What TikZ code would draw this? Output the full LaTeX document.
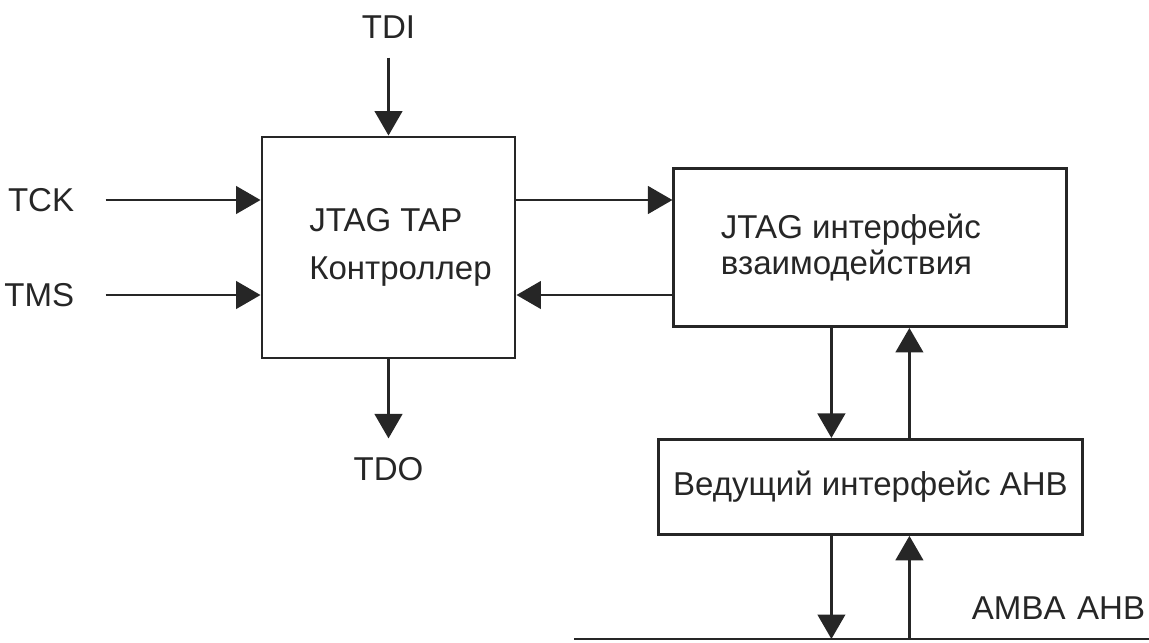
\documentclass[tikz,border=0pt]{standalone}
\usepackage{fontspec}
\setmainfont{Liberation Sans}
\usetikzlibrary{positioning,arrows.meta}
\definecolor{ink}{HTML}{262626}

\begin{document}
\begin{tikzpicture}[->,>={Triangle[width=0.55cm,length=0.49cm]},
  line width=1.65pt,color=ink,
  every node/.style={font=\fontsize{18.8}{21}\selectfont},
  block/.style={draw,inner sep=0pt},
  lbl/.style={inner sep=0.35cm}]

  \useasboundingbox (0,0) rectangle (22.98,-12.84);

  \node[block,minimum width=5.06cm,minimum height=4.42cm] (tap) at (7.77,-4.95) {};
  \node[block,minimum width=7.86cm,minimum height=3.16cm] (jtag) [right=3.12cm of tap] {};
  \node[block,minimum width=8.48cm,minimum height=1.9cm] (ahb) [below=2.2cm of jtag] {Ведущий интерфейс AHB};

  \node[align=left,inner sep=0pt,font=\fontsize{18.8}{27}\selectfont,xshift=0.24cm] (taptxt) at (tap) {JTAG TAP\\Контроллер};
  \node[align=left,inner sep=0pt,xshift=-0.39cm] (jtagtxt) at (jtag) {JTAG интерфейс\\взаимодействия};

  \node[lbl] (tdi) [above=1.56cm of tap] {TDI};
  \node[lbl] (tdo) [below=1.58cm of tap] {TDO};
  \node[lbl,inner xsep=0.6cm] (tck) [left=3.1cm of tap,yshift=0.95cm] {TCK};
  \node[lbl,inner xsep=0.6cm] (tms) [left=3.1cm of tap,yshift=-0.95cm] {TMS};

  % AMBA AHB bus
  \coordinate (busL) at (11.48,-12.78);
  \coordinate (busR) at (22.98,-12.78);
  \draw[-] (busL) -- (busR);
  \node (amba) at (21.17,-12.17) {AMBA\hspace{0.35em}AHB};

  \path (tdi) edge (tap)
        (tap) edge (tdo)
        (tck) edge (tck -| tap.west)
        (tms) edge (tms -| tap.west);

  \path ([yshift=0.95cm]tap.east) edge ([yshift=0.95cm]tap.east -| jtag.west)
        ([yshift=-0.95cm]jtag.west) edge ([yshift=-0.95cm]jtag.west -| tap.east);

  \path ([xshift=-0.78cm]jtag.south) edge ([xshift=-0.78cm]jtag.south |- ahb.north)
        ([xshift=0.78cm]ahb.north) edge ([xshift=0.78cm]ahb.north |- jtag.south)
        ([xshift=-0.78cm]ahb.south) edge ([xshift=-0.78cm]ahb.south |- busL)
        ([xshift=0.78cm]ahb.south |- busL) edge ([xshift=0.78cm]ahb.south);

\end{tikzpicture}
\end{document}
